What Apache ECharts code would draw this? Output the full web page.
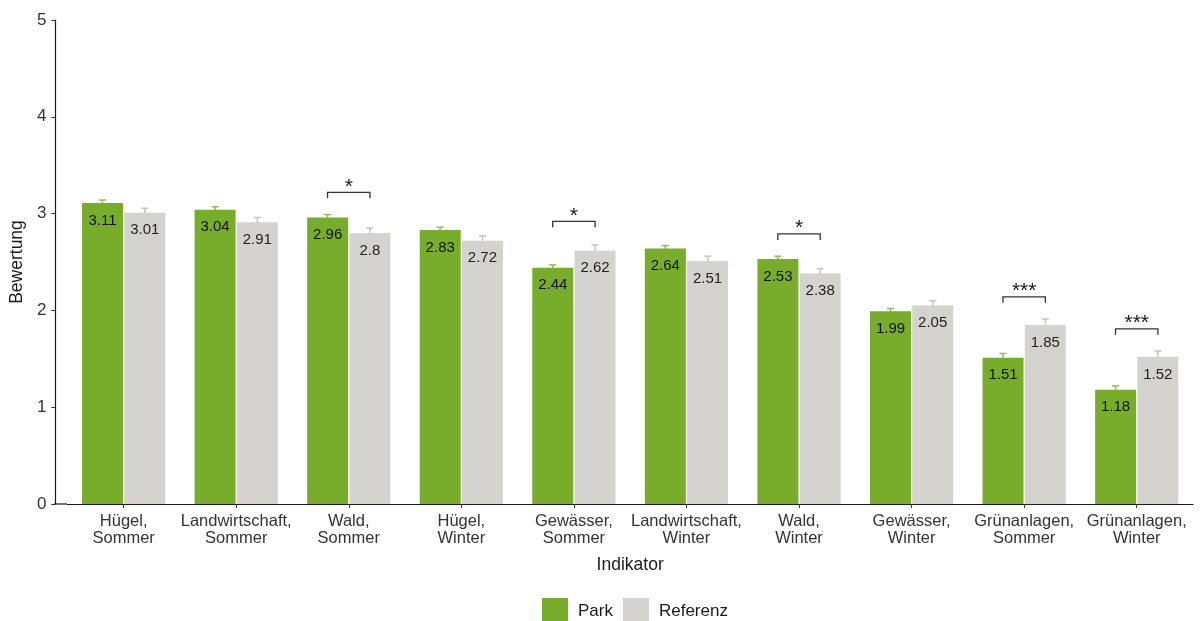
<!DOCTYPE html>
<html><head><meta charset="utf-8">
<script src="https://cdn.jsdelivr.net/npm/echarts@6/dist/echarts.min.js"></script>
<style>html,body{margin:0;padding:0;background:#fff}#c{width:1200px;height:621px}</style>
</head><body><div id="c"></div>
<script>
const categories = ["Hügel,\nSommer","Landwirtschaft,\nSommer","Wald,\nSommer","Hügel,\nWinter","Gewässer,\nSommer","Landwirtschaft,\nWinter","Wald,\nWinter","Gewässer,\nWinter","Grünanlagen,\nSommer","Grünanlagen,\nWinter"];
const parkValues = [3.11,3.04,2.96,2.83,2.44,2.64,2.53,1.99,1.51,1.18];
const refValues  = [3.01,2.91,2.80,2.72,2.62,2.51,2.38,2.05,1.85,1.52];
const parkSE = [0.03,0.03,0.03,0.03,0.03,0.03,0.03,0.03,0.045,0.04];
const refSE  = [0.045,0.05,0.05,0.05,0.055,0.05,0.05,0.05,0.06,0.06];
// significance brackets: category index, bracket height, label
const sigCats   = [2,4,6,8,9];
const sigLevels = [3.22,2.92,2.79,2.14,1.81];
const sigLabels = ["*","*","*","***","***"];
const yTicks = [0,1,2,3,4,5];

const GREEN = '#77ad2a', GREY = '#d4d3cf';
const BAR_W = 41, OFF = 21.2;
const FONT = 'Liberation Sans, Arial, Helvetica, sans-serif';

const chart = echarts.init(document.getElementById('c'), null, {renderer:'canvas'});

function errSeries(vals, se, sign, color){
  return {
    type:'custom', z:1, silent:true,
    data: vals.map((v,i)=>[i, v, se[i]]),
    renderItem(params, api){
      const i = api.value(0), v = api.value(1), s = api.value(2);
      const top = api.coord([i, v + s]);
      const bot = api.coord([i, v - s]);
      const x = top[0] + sign*OFF;
      const hw = 3.5;
      return {type:'group', children:[
        {type:'line', shape:{x1:x,y1:top[1],x2:x,y2:bot[1]}, style:{stroke:color,lineWidth:1.5}},
        {type:'line', shape:{x1:x-hw,y1:top[1],x2:x+hw,y2:top[1]}, style:{stroke:color,lineWidth:1.5}}
      ]};
    }
  };
}

chart.setOption({
  animation:false,
  textStyle:{fontFamily:FONT},
  grid:{left:66, width:1127, top:20, bottom:117, containLabel:false},
  legend:{
    top:598, left:542, padding:0, itemWidth:26, itemHeight:26, itemGap:10,
    icon:'rect',
    textStyle:{fontSize:17, color:'#1a1a1a', fontFamily:FONT, padding:[0,0,0,5]},
    data:['Park','Referenz']
  },
  xAxis:{
    type:'category', data:categories,
    name:'Indikator', nameLocation:'middle', nameGap:52,
    nameTextStyle:{fontSize:17.5, color:'#1a1a1a', fontFamily:FONT},
    axisLine:{show:true, lineStyle:{color:'#1a1a1a', width:1.2}},
    axisTick:{show:true, alignWithLabel:true, length:4, lineStyle:{color:'#333'}},
    axisLabel:{fontSize:16.5, color:'#333', lineHeight:17, margin:9, interval:0, fontFamily:FONT}
  },
  yAxis:{
    type:'value', min:yTicks[0], max:yTicks[yTicks.length-1], interval:1, offset:12,
    name:'Bewertung', nameLocation:'middle', nameGap:27, nameRotate:90,
    nameTextStyle:{fontSize:17.5, color:'#1a1a1a', fontFamily:FONT},
    axisLine:{show:true, lineStyle:{color:'#1a1a1a', width:1.2}},
    axisTick:{show:true, length:4, lineStyle:{color:'#333'}},
    splitLine:{show:false},
    axisLabel:{fontSize:17, color:'#333', margin:9, fontFamily:FONT}
  },
  series:[
    errSeries(parkValues, parkSE, -1, '#8fbf4f'),
    errSeries(refValues, refSE, 1, '#c4c4c1'),
    {
      name:'Park', type:'bar', data:parkValues, barWidth:BAR_W, barGap:'3%', z:2,
      itemStyle:{color:GREEN},
      label:{show:true, position:'insideTop', distance:10, fontSize:15, color:'#111', fontFamily:FONT}
    },
    {
      name:'Referenz', type:'bar', data:refValues, barWidth:BAR_W, z:2,
      itemStyle:{color:GREY},
      label:{show:true, position:'insideTop', distance:10, fontSize:15, color:'#222', fontFamily:FONT}
    },
    {
      type:'custom', z:5, silent:true,
      data: sigCats.map((c,k)=>[c, sigLevels[k]]),
      renderItem(params, api){
        const c = api.value(0), lv = api.value(1);
        const lbl = sigLabels[params.dataIndex];
        const p = api.coord([c, lv]);
        const x1 = p[0]-OFF, x2 = p[0]+OFF, y = p[1];
        return {type:'group', children:[
          {type:'polyline', shape:{points:[[x1,y+6],[x1,y],[x2,y],[x2,y+6]]}, style:{stroke:'#333', lineWidth:1.3, fill:null}},
          {type:'text', x:p[0], y:y+5, style:{text:lbl, fontSize:21, fill:'#1a1a1a', align:'center', verticalAlign:'bottom', fontFamily:FONT}}
        ]};
      }
    }
  ]
});
chart.setOption({graphic:[{type:'line', shape:{x1:54,y1:504,x2:67,y2:504}, style:{stroke:'#1a1a1a', lineWidth:1.2}}]});
</script></body></html>
